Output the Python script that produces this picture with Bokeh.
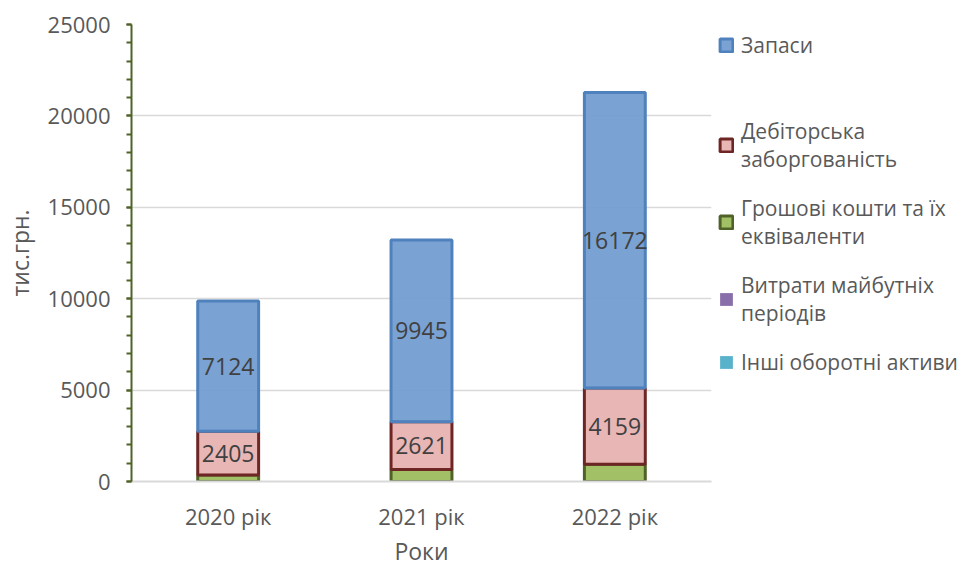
from bokeh.plotting import figure
from bokeh.models import (Range1d, FactorRange, SingleIntervalTicker, Legend, LegendItem,
                          ColumnDataSource)
from bokeh.core.properties import value
from bokeh.embed import file_html
from bokeh.resources import INLINE

years = ["2020 рік", "2021 рік", "2022 рік"]
zapasy = [7124, 9945, 16172]
debitorska = [2405, 2621, 4159]
groshovi = [350, 650, 950]
vytraty = [0, 0, 0]
inshi = [0, 0, 0]

series_names = ["Грошові кошти та їх\nеквіваленти", "Дебіторська\nзаборгованість", "Запаси",
                "Витрати майбутніх\nперіодів", "Інші оборотні активи"]
keys = ["groshovi", "debitorska", "zapasy", "vytraty", "inshi"]

FONT = "Open Sans"
TXT = "#595959"

source = ColumnDataSource(dict(years=years, zapasy=zapasy, debitorska=debitorska,
                               groshovi=groshovi, vytraty=vytraty, inshi=inshi))

p = figure(frame_width=580, frame_height=457, x_range=FactorRange(*years, range_padding=0),
           y_range=Range1d(0, 25000), output_backend="svg", toolbar_location=None,
           min_border_left=124, min_border_right=10, min_border_top=24, min_border_bottom=60)
p.outline_line_color = None

fills = ["#9bbb59", "#e6b0af", "#709bd0", "#8064a2", "#4bacc6"]
lines = ["#4f6228", "#6e2624", "#4f81bd", "#8064a2", "#4bacc6"]
lalpha = [1, 1, 1, 0, 0]
rends = p.vbar_stack(keys, x="years", width=0.315, source=source,
                     fill_color=fills, line_color=lines, line_alpha=lalpha,
                     line_width=3, fill_alpha=0.93)

# invisible spacer renderer for the legend gap
spacer = p.scatter(x=[years[0]], y=[0], size=0, alpha=0)

# data labels
deb_y = [g + d / 2 for g, d in zip(groshovi, debitorska)]
zap_y = [g + d + z / 2 for g, d, z in zip(groshovi, debitorska, zapasy)]
p.text(x=years, y=deb_y, text=[str(v) for v in debitorska], text_align="center",
       text_baseline="middle", text_font=value(FONT), text_font_size="23px", text_color="#404040")
p.text(x=years, y=zap_y, text=[str(v) for v in zapasy], text_align="center",
       text_baseline="middle", text_font=value(FONT), text_font_size="23px", text_color="#404040")

# axes
p.yaxis.ticker = SingleIntervalTicker(interval=5000, num_minor_ticks=5)
p.yaxis.axis_line_color = "#4f6228"
p.yaxis.axis_line_width = 2
p.yaxis.major_tick_line_color = "#4f6228"
p.yaxis.minor_tick_line_color = "#4f6228"
p.yaxis.major_tick_line_width = 2
p.yaxis.minor_tick_line_width = 2
p.yaxis.major_tick_in = 0
p.yaxis.major_tick_out = 5
p.yaxis.minor_tick_in = 0
p.yaxis.minor_tick_out = 5
p.yaxis.major_label_standoff = 16
p.yaxis.axis_label = "тис.грн."
p.yaxis.axis_label_standoff = 9

p.xaxis.axis_line_color = "#d9d9d9"
p.xaxis.axis_line_width = 2
p.xaxis.major_tick_line_color = None
p.xaxis.minor_tick_line_color = None
p.xaxis.major_label_standoff = 13
p.xaxis.axis_label = "Роки"
p.xaxis.axis_label_standoff = 1

for ax in (p.xaxis, p.yaxis):
    ax.major_label_text_font = FONT
    ax.major_label_text_font_size = "22px"
    ax.major_label_text_color = TXT
    ax.axis_label_text_font = FONT
    ax.axis_label_text_font_size = "23px"
    ax.axis_label_text_font_style = "normal"
    ax.axis_label_text_color = TXT

p.xgrid.grid_line_color = None
p.ygrid.grid_line_color = "#d9d9d9"
p.ygrid.grid_line_width = 1.5
p.ygrid.ticker = SingleIntervalTicker(interval=5000)

items = [LegendItem(label=series_names[2], renderers=[rends[2]]),
         LegendItem(label=" ", renderers=[spacer]),
         LegendItem(label=series_names[1], renderers=[rends[1]]),
         LegendItem(label=series_names[0], renderers=[rends[0]]),
         LegendItem(label=series_names[3], renderers=[rends[3]]),
         LegendItem(label=series_names[4], renderers=[rends[4]])]
lg = Legend(items=items, location="top_left")
lg.border_line_alpha = 0
lg.background_fill_alpha = 0
lg.padding = 0
lg.margin = 7
lg.spacing = 21
lg.glyph_width = 16
lg.glyph_height = 16
lg.label_height = 10
lg.label_standoff = 7
lg.label_text_font = FONT
lg.label_text_font_size = "21px"
lg.label_text_line_height = 1.45
lg.label_text_color = TXT
p.add_layout(lg, "right")

open("out.html", "w").write(file_html(p, INLINE))
